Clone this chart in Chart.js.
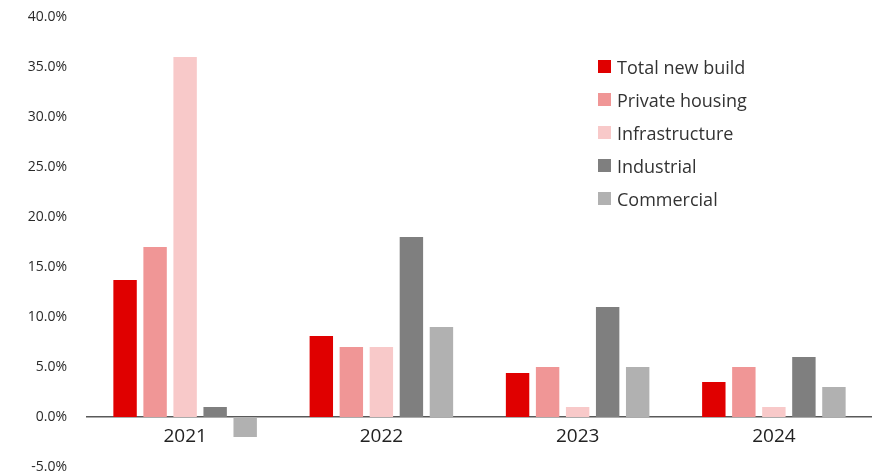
<!DOCTYPE html>
<html>
<head>
<meta charset="utf-8">
<script src="https://cdn.jsdelivr.net/npm/chart.js@4"></script>
<style>
  html, body { margin: 0; padding: 0; background: #fff; }
  #wrap { position: relative; width: 872px; height: 476px; }
  #legend {
    position: absolute; left: 598px; top: 50px;
    font-family: "Open Sans", sans-serif; font-size: 18px; color: #333;
  }
  #legend .row { display: flex; align-items: center; height: 33px; }
  #legend .box { width: 13px; height: 13px; margin-right: 6px; }
</style>
</head>
<body>
<div id="wrap">
  <canvas id="chart" width="872" height="476"></canvas>
  <div id="legend"></div>
</div>
<script>
// Growth by sector, % change year on year
const years = ['2021', '2022', '2023', '2024'];
const totalNewBuild = [13.7, 8.1, 4.4, 3.5];
const privateHousing = [17, 7, 5, 5];
const infrastructure = [36, 7, 1, 1];
const industrial = [1, 18, 11, 6];
const commercial = [-2, 9, 5, 3];

const seriesNames = ['Total new build', 'Private housing', 'Infrastructure', 'Industrial', 'Commercial'];
const seriesColors = ['#e00000', '#f09696', '#f8c9c9', '#7f7f7f', '#b1b1b1'];
const yTicks = [-5, 0, 5, 10, 15, 20, 25, 30, 35, 40];

const seriesData = [totalNewBuild, privateHousing, infrastructure, industrial, commercial];

const datasets = seriesData.map((values, i) => ({
    label: seriesNames[i],
    data: values,
    backgroundColor: seriesColors[i],
    borderWidth: 0,
    barPercentage: 0.78,
    categoryPercentage: 0.765
}));

const ctx = document.getElementById('chart').getContext('2d');
new Chart(ctx, {
    type: 'bar',
    data: { labels: years, datasets: datasets },
    options: {
        responsive: false,
        animation: false,
        layout: { padding: { top: 17, bottom: 9, left: 0, right: 0 } },
        plugins: {
            legend: { display: false },
            tooltip: { enabled: false }
        },
        scales: {
            x: {
                position: { y: 0 },
                grid: { display: false, drawTicks: false },
                border: { display: true, color: '#595959', width: 1.5 },
                ticks: {
                    padding: 8,
                    color: '#222',
                    font: { family: 'Open Sans', size: 19 }
                }
            },
            y: {
                min: -5,
                max: 40,
                afterBuildTicks: (scale) => {
                    scale.ticks = yTicks.map(v => ({ value: v }));
                },
                afterFit: (scale) => {
                    scale.width = 87;
                    // tick padding is horizontal only here
                    scale.paddingTop = 8;
                    scale.paddingBottom = 8;
                },
                grid: { display: false, drawTicks: false },
                border: { display: false },
                ticks: {
                    padding: 20,
                    color: '#2a2a2a',
                    font: { family: 'Open Sans', size: 14 },
                    callback: (v) => v.toFixed(1) + '%'
                }
            }
        }
    }
});

// HTML legend built from the same series
const legend = document.getElementById('legend');
seriesNames.forEach((name, i) => {
    const row = document.createElement('div');
    row.className = 'row';
    row.innerHTML = `<span class="box" style="background:${seriesColors[i]}"></span><span>${name}</span>`;
    legend.appendChild(row);
});
</script>
</body>
</html>
